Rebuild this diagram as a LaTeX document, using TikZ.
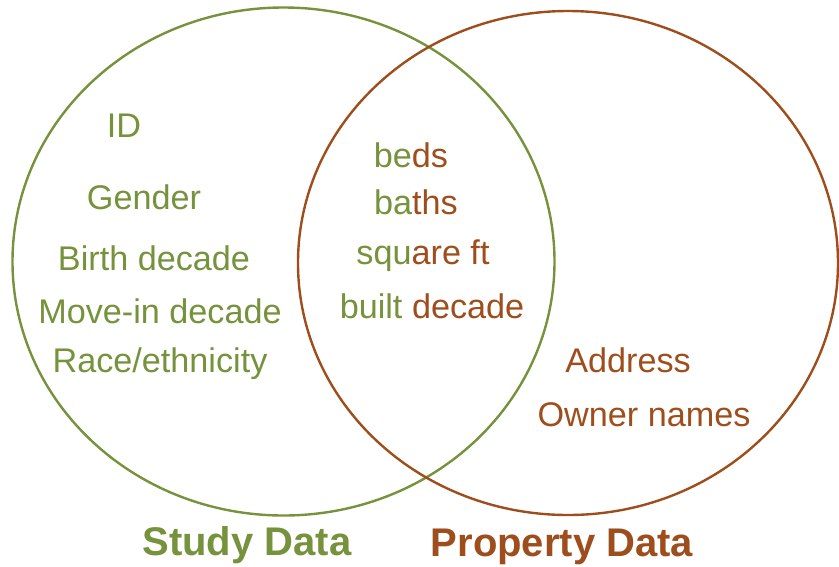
\documentclass[tikz,border=0pt]{standalone}
\usepackage{fontspec}
\setmainfont{Liberation Sans}
\definecolor{sgreen}{RGB}{118,146,60}
\definecolor{porange}{RGB}{158,78,28}
\begin{document}
\begin{tikzpicture}[x=1pt,y=-1pt,
  lbl/.style={anchor=base,inner sep=0pt,font=\fontsize{34.2}{40}\selectfont},
  glbl/.style={lbl,text=sgreen},
  olbl/.style={lbl,text=porange},
  title/.style={anchor=base,inner sep=0pt,font=\fontsize{40}{46}\selectfont\bfseries}]
\useasboundingbox (0,0) rectangle (839,566);
\draw[sgreen,line width=2.4pt] (283.5,261.5) ellipse [x radius=271, y radius=254];
\draw[porange,line width=2.4pt] (568,263) ellipse [x radius=270, y radius=252];
\node[glbl] (id) at (124,137) {ID};
\node[glbl] (gender) at (144,209) {Gender};
\node[glbl] (birth) at (154,270) {Birth decade};
\node[glbl] (movein) at (160,323) {Move-in decade};
\node[glbl] (race) at (160,372) {Race/ethnicity};
\node[lbl] (beds) at (411,167) {\textcolor{sgreen}{be}\textcolor{porange}{ds}};
\node[lbl] (baths) at (416,214) {\textcolor{sgreen}{ba}\textcolor{porange}{ths}};
\node[lbl] (sqft) at (423,264) {\textcolor{sgreen}{squ}\textcolor{porange}{are ft}};
\node[lbl] (built) at (432,318) {\textcolor{sgreen}{built} \textcolor{porange}{decade}};
\node[olbl] (addr) at (628,372) {Address};
\node[olbl] (owner) at (644,426) {Owner names};
\node[title,text=sgreen] (study) at (247,555) {Study Data};
\node[title,text=porange] (prop) at (562,556) {Property Data};
\end{tikzpicture}
\end{document}
